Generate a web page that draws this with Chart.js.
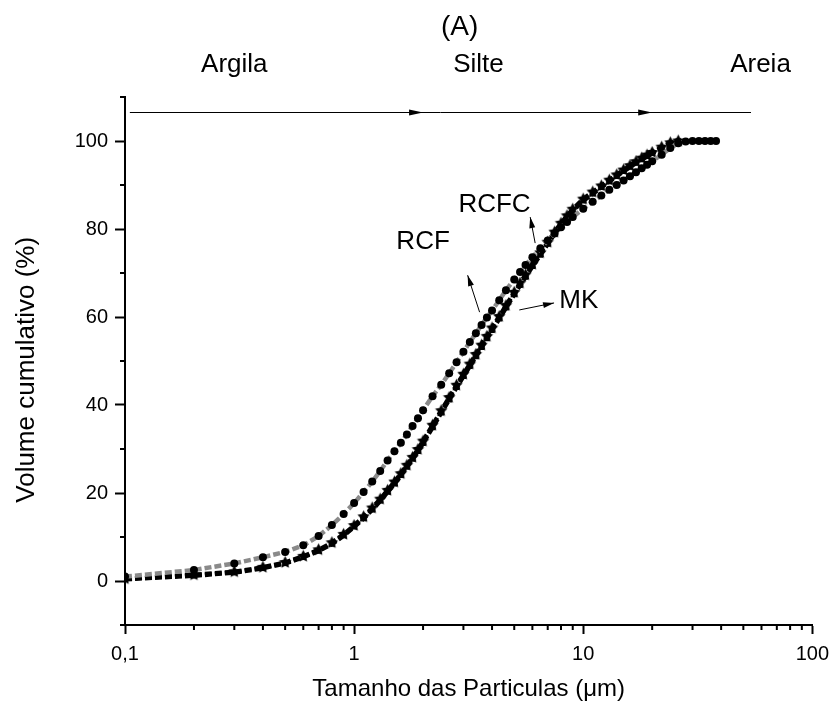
<!DOCTYPE html>
<html>
<head>
<meta charset="utf-8">
<script src="https://cdn.jsdelivr.net/npm/chart.js@4/dist/chart.umd.min.js"></script>
<style>
  html, body { margin: 0; padding: 0; background: #fff; }
  #wrap { width: 837px; height: 707px; }
</style>
</head>
<body>
<div id="wrap"><canvas id="psd" width="837" height="707"></canvas></div>
<script>
// Particle size (µm) shared by all three samples
const sizes = [0.1, 0.2, 0.3, 0.4, 0.5, 0.6, 0.7, 0.8, 0.9, 1.0,
  1.1, 1.2, 1.3, 1.4, 1.5, 1.6, 1.7, 1.8, 1.9, 2.0,
  2.2, 2.4, 2.6, 2.8, 3.0, 3.2, 3.4, 3.6, 3.8, 4.0,
  4.3, 4.6, 5.0, 5.3, 5.6, 6.0, 6.5, 7.0, 7.5, 8.0, 8.5, 9.0,
  10, 11, 12, 13, 14, 15, 16, 17, 18, 19, 20, 22, 24, 26, 28, 30, 32, 34, 36, 38];

// Cumulative volume (%) per sample, same order as sizes (null = no reading)
const rcf = [1.0, 2.5, 4.0, 5.4, 6.6, 8.1, 10.2, 12.7, 15.2, 17.7,
  20.2, 22.6, 25.0, 27.4, 29.5, 31.4, 33.3, 35.2, 37.0, 38.8,
  42.0, 44.6, 47.2, 49.7, 52.1, 54.3, 56.3, 58.2, 59.9, 61.5,
  63.8, 66.1, 68.5, 70.2, 71.8, 73.6, 75.6, 77.4, 79.0, 80.4, 81.6, 82.7,
  84.6, 86.2, 87.6, 88.9, 90.0, 91.0, 92.0, 92.9, 93.8, 94.6, 95.4, 96.9, 98.4, 99.5, 99.9, 100, 100, 100, 100, 100];
const rcfc = [0.5, 1.4, 2.1, 3.1, 4.2, 5.6, 7.1, 8.7, 10.6, 12.6,
  14.6, 16.6, 18.6, 20.6, 22.5, 24.4, 26.3, 28.1, 29.9, 31.8,
  35.4, 38.7, 41.7, 44.5, 47.0, 49.3, 51.5, 53.6, 55.6, 57.5,
  60.1, 62.6, 65.6, 67.7, 69.6, 72.0, 74.6, 77.0, 79.3, 81.3, 83.0, 84.5,
  86.8, 88.4, 89.8, 91.1, 92.3, 93.4, 94.4, 95.3, 96.1, 96.8, 97.4, 98.6, 99.6, 100,
  null, null, null, null, null, null];
const mk = [0.4, 1.2, 1.9, 2.9, 4.0, 5.4, 6.8, 8.4, 10.3, 12.3,
  14.2, 16.2, 18.2, 20.2, 22.1, 24.0, 25.9, 27.7, 29.5, 31.3,
  34.9, 38.2, 41.2, 44.0, 46.5, 48.8, 51.0, 53.1, 55.1, 57.0,
  59.6, 62.1, 65.1, 67.2, 69.1, 71.5, 74.1, 76.6, 78.9, 80.9, 82.6, 84.1,
  86.4, 88.0, 89.5, 90.8, 92.0, 93.1, 94.1, 95.0, 95.8, 96.5, 97.2, 98.4, 99.5, 100,
  null, null, null, null, null, null];

// Axis ticks
const xTicks = [0.1, 0.2, 0.3, 0.4, 0.5, 0.6, 0.7, 0.8, 0.9,
  1, 2, 3, 4, 5, 6, 7, 8, 9, 10, 20, 30, 40, 50, 60, 70, 80, 90, 100];
const xMajor = [0.1, 1, 10, 100];
const yTicks = [-10, 0, 10, 20, 30, 40, 50, 60, 70, 80, 90, 100, 110];
const yMajor = [0, 20, 40, 60, 80, 100];

// Grain classes along the top (boundaries at 2 and 20 µm)
const zoneLabels = ['Argila', 'Silte', 'Areia'];
const zoneCenters = [0.30, 3.49, 59.4];
const zoneBounds = [2, 20];

const FONT = "'Liberation Sans', Arial, sans-serif";

function pairs(vals) {
  const out = [];
  sizes.forEach((s, i) => { if (vals[i] != null) out.push({ x: s, y: vals[i] }); });
  return out;
}

function makeStar(r) {
  const c = document.createElement('canvas');
  const s = Math.ceil(r * 2) + 2;
  c.width = c.height = s;
  const g = c.getContext('2d');
  g.fillStyle = '#000';
  g.beginPath();
  for (let i = 0; i < 10; i++) {
    const rad = i % 2 ? r * 0.5 : r;
    const a = -Math.PI / 2 + i * Math.PI / 5;
    g.lineTo(s / 2 + rad * Math.cos(a), s / 2 + rad * Math.sin(a));
  }
  g.closePath();
  g.fill();
  return c;
}

const fmt = v => String(v).replace('.', ',');

function arrowHead(ctx, x0, y0, x1, y1, len, half) {
  const a = Math.atan2(y1 - y0, x1 - x0);
  ctx.beginPath();
  ctx.moveTo(x1, y1);
  ctx.lineTo(x1 - len * Math.cos(a) + half * Math.sin(a), y1 - len * Math.sin(a) - half * Math.cos(a));
  ctx.lineTo(x1 - len * Math.cos(a) - half * Math.sin(a), y1 - len * Math.sin(a) + half * Math.cos(a));
  ctx.closePath();
  ctx.fill();
}

// Minor ticks, y title, class arrows, labels and series call-outs
const decorations = {
  id: 'decorations',
  afterDraw(chart) {
    const { ctx } = chart;
    const xs = chart.scales.x, ys = chart.scales.y;
    const X = v => xs.getPixelForValue(v), Y = v => ys.getPixelForValue(v);
    ctx.save();
    ctx.strokeStyle = '#000';
    ctx.fillStyle = '#000';
    ctx.lineWidth = 2;

    // minor ticks
    ctx.beginPath();
    xTicks.filter(v => !xMajor.includes(v)).forEach(v => {
      ctx.moveTo(X(v), ys.bottom); ctx.lineTo(X(v), ys.bottom + 5);
    });
    yTicks.filter(v => !yMajor.includes(v)).forEach(v => {
      ctx.moveTo(xs.left, Y(v)); ctx.lineTo(xs.left - 5, Y(v));
    });
    ctx.stroke();

    ctx.textAlign = 'center';
    ctx.textBaseline = 'middle';

    // y axis title
    ctx.save();
    ctx.font = '26px ' + FONT;
    ctx.translate(27, Y(48));
    ctx.rotate(-Math.PI / 2);
    ctx.fillText('Volume cumulativo (%)', 0, 0);
    ctx.restore();

    // class line with arrows
    const ly = Math.round(Y(106.6)) + 0.5;
    ctx.lineWidth = 1;
    ctx.beginPath();
    ctx.moveTo(X(0.105), ly); ctx.lineTo(X(54), ly);
    ctx.stroke();
    zoneBounds.forEach(b => arrowHead(ctx, X(b) - 20, ly, X(b), ly, 14, 3));

    ctx.font = '26px ' + FONT;
    zoneLabels.forEach((t, i) => ctx.fillText(t, X(zoneCenters[i]), Y(117.3)));
    ctx.font = '28px ' + FONT;
    ctx.fillText('(A)', X(2.89), Y(125.9));

    // series call-outs
    ctx.font = '26px ' + FONT;
    const notes = [
      { text: 'RCF', at: [2.0, 77.0], from: [3.53, 61.1], to: [3.13, 69.5] },
      { text: 'RCFC', at: [4.10, 85.5], from: [6.17, 76.8], to: [5.87, 82.7] },
      { text: 'MK', at: [9.57, 63.6], from: [5.26, 61.6], to: [7.46, 63.2] },
    ];
    notes.forEach(n => {
      ctx.fillText(n.text, X(n.at[0]), Y(n.at[1]));
      const x0 = X(n.from[0]), y0 = Y(n.from[1]), x1 = X(n.to[0]), y1 = Y(n.to[1]);
      ctx.beginPath();
      ctx.moveTo(x0, y0); ctx.lineTo(x1, y1);
      ctx.stroke();
      arrowHead(ctx, x0, y0, x1, y1, 11, 3);
    });
    ctx.restore();
  },
};

const star = makeStar(6.5);

new Chart(document.getElementById('psd'), {
  type: 'line',
  data: {
    datasets: [
      {
        label: 'RCF',
        data: pairs(rcf),
        borderColor: '#8a8a8a',
        borderWidth: 4.5,
        borderDash: [7, 3],
        pointStyle: 'circle',
        pointRadius: 4,
        pointBackgroundColor: '#000',
        pointBorderWidth: 0,
        tension: 0,
      },
      {
        label: 'RCFC',
        data: pairs(rcfc),
        borderColor: '#000',
        borderWidth: 4.5,
        borderDash: [7, 3],
        pointStyle: star,
        pointRadius: 6,
        tension: 0,
      },
      {
        label: 'MK',
        data: pairs(mk),
        borderColor: '#000',
        borderWidth: 4.5,
        borderDash: [7, 3],
        pointStyle: 'rect',
        pointRadius: 3.8,
        pointBackgroundColor: '#000',
        pointBorderWidth: 0,
        tension: 0,
      },
    ],
  },
  options: {
    responsive: false,
    animation: false,
    layout: { padding: { top: 97, right: 20, left: 0, bottom: 0 } },
    plugins: { legend: { display: false }, tooltip: { enabled: false } },
    scales: {
      x: {
        type: 'logarithmic',
        min: 0.1,
        max: 100,
        afterBuildTicks: s => { s.ticks = xTicks.map(v => ({ value: v })); },
        afterFit: s => { s.height = 82; },
        border: { display: true, color: '#000', width: 2 },
        grid: {
          drawOnChartArea: false,
          tickLength: 9,
          tickWidth: 2,
          tickColor: c => (c.tick && xMajor.includes(c.tick.value) ? '#000' : 'rgba(0,0,0,0)'),
        },
        ticks: {
          autoSkip: false,
          maxRotation: 0,
          padding: 8,
          color: '#000',
          font: { family: FONT, size: 20 },
          callback: v => (xMajor.includes(v) ? fmt(v) : ''),
        },
        title: {
          display: true,
          text: 'Tamanho das Particulas (\u03bcm)',
          color: '#000',
          font: { family: FONT, size: 24 },
          padding: { top: 0, bottom: 3 },
        },
      },
      y: {
        min: -10,
        max: 110,
        afterBuildTicks: s => { s.ticks = yTicks.map(v => ({ value: v })); },
        afterFit: s => { s.width = 125; },
        border: { display: true, color: '#000', width: 2 },
        grid: {
          drawOnChartArea: false,
          tickLength: 10,
          tickWidth: 2,
          tickColor: c => (c.tick && yMajor.includes(c.tick.value) ? '#000' : 'rgba(0,0,0,0)'),
        },
        ticks: {
          autoSkip: false,
          padding: 7,
          color: '#000',
          font: { family: FONT, size: 20 },
          callback: v => (yMajor.includes(v) ? String(v) : ''),
        },
      },
    },
  },
  plugins: [decorations],
});
</script>
</body>
</html>
